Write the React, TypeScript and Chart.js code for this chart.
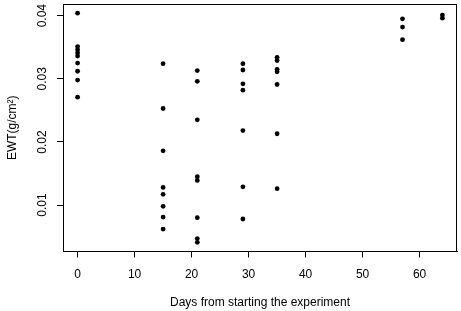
import React, { useEffect, useRef } from "react";
import { Chart, registerables } from "chart.js";

Chart.register(...registerables);

const days: number[] = [
  0, 0, 0, 0, 0, 0, 0, 0, 0,
  15, 15, 15, 15, 15, 15, 15, 15,
  21, 21, 21, 21, 21, 21, 21, 21,
  29, 29, 29, 29, 29, 29, 29,
  35, 35, 35, 35, 35, 35, 35,
  57, 57, 57,
  64, 64,
];

const ewt: number[] = [
  0.0404, 0.0351, 0.0346, 0.0341, 0.0336, 0.0325, 0.0312, 0.0298, 0.0271,
  0.0324, 0.0253, 0.0186, 0.0128, 0.0117, 0.0098, 0.0081, 0.0062,
  0.0313, 0.0296, 0.0235, 0.0145, 0.0139, 0.008, 0.0047, 0.0041,
  0.0324, 0.0314, 0.0292, 0.0282, 0.0218, 0.0129, 0.0078,
  0.0334, 0.0329, 0.0315, 0.0311, 0.0291, 0.0213, 0.0126,
  0.0395, 0.0382, 0.0362,
  0.0401, 0.0396,
];

const xTicks: number[] = [0, 10, 20, 30, 40, 50, 60];
const yTicks: number[] = [0.01, 0.02, 0.03, 0.04];
const xTitle = "Days from starting the experiment";
const yTitle = "EWT(g/cm²)";

const FONT = "Arial, 'Liberation Sans', sans-serif";

const boxPlugin = {
  id: "rbox",
  afterDraw(chart: any) {
    const { ctx, chartArea } = chart;
    ctx.save();
    ctx.strokeStyle = "#000";
    ctx.lineWidth = 1;
    ctx.strokeRect(
      Math.round(chartArea.left) + 0.5,
      Math.round(chartArea.top) + 0.5,
      Math.round(chartArea.right - chartArea.left) - 1,
      Math.round(chartArea.bottom - chartArea.top) - 1
    );
    ctx.restore();
  },
};

export default function App() {
  const ref = useRef<HTMLCanvasElement | null>(null);

  useEffect(() => {
    const canvas = ref.current;
    if (!canvas) return;
    const points = days.map((d, i) => ({ x: d, y: ewt[i] }));
    const chart = new Chart(canvas, {
      type: "scatter",
      data: {
        datasets: [
          {
            data: points,
            backgroundColor: "#000",
            borderColor: "#000",
            pointRadius: 2.4,
            pointBorderWidth: 0,
          },
        ],
      },
      options: {
        animation: false,
        responsive: false,
        maintainAspectRatio: false,
        layout: { padding: { top: 2, right: 3, left: 0, bottom: 0 } },
        plugins: {
          legend: { display: false },
          tooltip: { enabled: false },
        },
        scales: {
          x: {
            type: "linear",
            min: -2.56,
            max: 66.56,
            afterFit: (s: any) => {
              s.height = 59.5;
              s.paddingLeft = 0;
              s.paddingRight = 0;
            },
            afterBuildTicks: (s: any) => {
              s.ticks = xTicks.map((v) => ({ value: v }));
            },
            ticks: {
              includeBounds: false,
              color: "#000",
              padding: 10,
              font: { family: FONT, size: 12 },
              maxRotation: 0,
              minRotation: 0,
              callback: (v: any) => String(v),
            },
            grid: {
              drawOnChartArea: false,
              drawTicks: true,
              tickLength: 6,
              color: "#000",
            },
            border: { display: true, color: "#000" },
            title: {
              display: true,
              text: xTitle,
              color: "#000",
              font: { family: FONT, size: 12 },
              padding: { top: 0, bottom: 1 },
            },
          },
          y: {
            type: "linear",
            min: 0.00265,
            max: 0.04185,
            afterFit: (s: any) => {
              s.width = 63;
              s.paddingTop = 0;
              s.paddingBottom = 0;
            },
            afterBuildTicks: (s: any) => {
              s.ticks = yTicks.map((v) => ({ value: v }));
            },
            ticks: {
              includeBounds: false,
              color: "#000",
              padding: 3,
              crossAlign: "center",
              minRotation: 90,
              maxRotation: 90,
              font: { family: FONT, size: 12 },
              callback: (v: any) => Number(v).toFixed(2),
            },
            grid: {
              drawOnChartArea: false,
              drawTicks: true,
              tickLength: 6,
              color: "#000",
            },
            border: { display: true, color: "#000" },
            title: {
              display: true,
              text: yTitle,
              color: "#000",
              font: { family: FONT, size: 12 },
              padding: { top: 5, bottom: 0 },
            },
          },
        },
      },
      plugins: [boxPlugin],
    });
    return () => chart.destroy();
  }, []);

  return (
    <div style={{ position: "fixed", left: 0, top: 0, width: 461, height: 311, background: "#fff" }}>
      <canvas ref={ref} width={461} height={311} style={{ display: "block" }} />
    </div>
  );
}
